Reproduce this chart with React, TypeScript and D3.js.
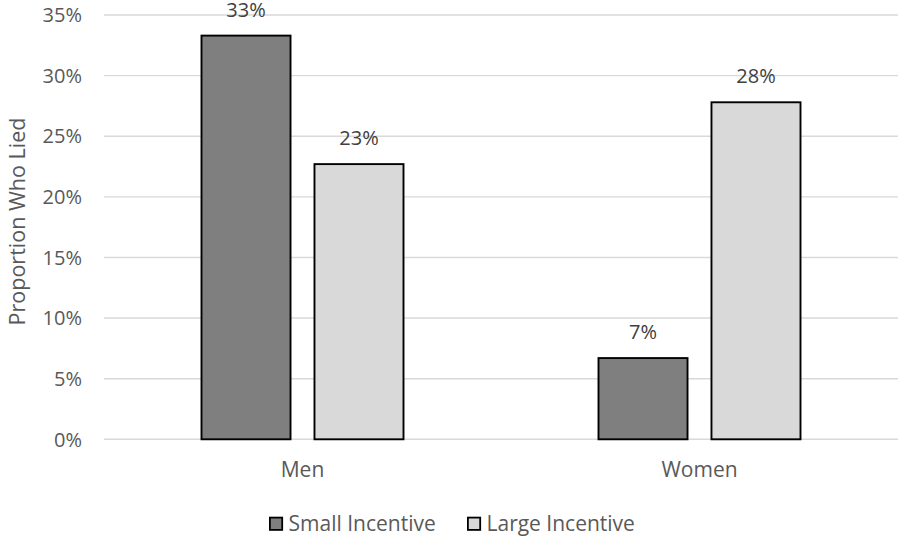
import React from "react";
import * as d3 from "d3";

// Share of participants who lied, by gender and incentive size
const groups = ["Men", "Women"];
const seriesNames = ["Small Incentive", "Large Incentive"];
const smallIncentive = [0.333, 0.067];
const largeIncentive = [0.227, 0.278];
const yTicks = [0, 0.05, 0.1, 0.15, 0.2, 0.25, 0.3, 0.35];

const seriesValues = [smallIncentive, largeIncentive];
const seriesFill = ["#7f7f7f", "#d9d9d9"];

const W = 898;
const H = 538;
const FONT = "'Open Sans', 'Noto Sans', sans-serif";

export default function App() {
  const x0 = d3.scaleBand<string>().domain(groups).range([104, 898]);
  const x1 = d3
    .scaleBand<string>()
    .domain(seriesNames)
    .range([0, x0.bandwidth()])
    .paddingInner(0.212)
    .paddingOuter(0.863);
  const y = d3.scaleLinear().domain([0, 0.35]).range([439.3, 15]);
  const pct = d3.format(".0%");

  return (
    <svg
      width={W}
      height={H}
      style={{ position: "absolute", left: 0, top: 0, background: "#fff" }}
      fontFamily={FONT}
    >
      {/* horizontal gridlines */}
      {yTicks.map((t) => (
        <line
          key={"g" + t}
          x1={104}
          x2={898}
          y1={y(t)}
          y2={y(t)}
          stroke="#d9d9d9"
          strokeWidth={1.4}
        />
      ))}
      {/* y tick labels */}
      {yTicks.map((t) => (
        <text
          key={"t" + t}
          x={82}
          y={y(t)}
          dy="0.36em"
          textAnchor="end"
          fontSize={20}
          fill="#595959"
        >
          {pct(t)}
        </text>
      ))}
      {/* y axis title */}
      <text
        transform={`translate(25,221.5) rotate(-90)`}
        textAnchor="middle"
        fontSize={21.5}
        fill="#595959"
      >
        Proportion Who Lied
      </text>
      {/* bars and value labels */}
      {groups.map((g, gi) => (
        <g key={g} transform={`translate(${x0(g)},0)`}>
          {seriesNames.map((s, si) => {
            const v = seriesValues[si][gi];
            const bx = x1(s)!;
            const bw = x1.bandwidth();
            return (
              <g key={s}>
                <rect
                  x={bx}
                  y={y(v)}
                  width={bw}
                  height={y(0) - y(v)}
                  fill={seriesFill[si]}
                  stroke="#000"
                  strokeWidth={1.9}
                />
                <text
                  x={bx + bw / 2}
                  y={y(v) - 19}
                  textAnchor="middle"
                  fontSize={20}
                  fill="#404040"
                >
                  {pct(v)}
                </text>
              </g>
            );
          })}
          <text
            x={x0.bandwidth() / 2}
            y={476.7}
            textAnchor="middle"
            fontSize={21}
            fill="#595959"
          >
            {g}
          </text>
        </g>
      ))}
      {/* legend */}
      {seriesNames.map((s, si) => {
        const lx = [269, 467][si];
        return (
          <g key={"l" + s}>
            <rect
              x={lx + 0.9}
              y={517.6}
              width={12.3}
              height={12.3}
              fill={seriesFill[si]}
              stroke="#000"
              strokeWidth={1.8}
            />
            <text x={lx + 19.5} y={530.5} fontSize={21} fill="#595959">
              {s}
            </text>
          </g>
        );
      })}
    </svg>
  );
}
